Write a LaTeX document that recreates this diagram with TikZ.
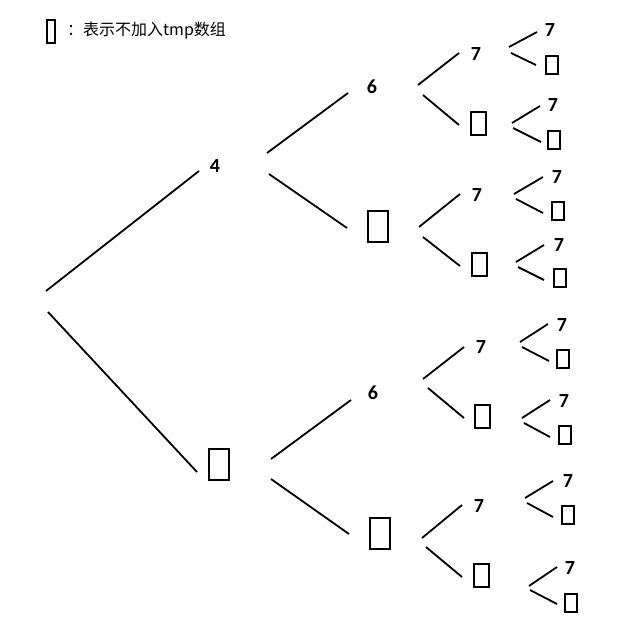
\documentclass[tikz,border=0pt]{standalone}
\usepackage{fontspec}
\newfontfamily\cjk{Noto Sans CJK SC}
\newfontfamily\numfont{Carlito}
\tikzset{
  num/.style={font=\numfont\bfseries\fontsize{20}{20}\selectfont, inner sep=0pt},
  skipbox/.style={draw, line width=2pt, inner sep=0pt},
  big/.style={skipbox, minimum width=20pt, minimum height=31pt},
  mid/.style={skipbox, minimum width=15pt, minimum height=23pt},
  small/.style={skipbox, minimum width=12pt, minimum height=18pt},
  branch/.style={line width=1.8pt}
}

\begin{document}
\begin{tikzpicture}[x=1pt, y=-1pt]
\useasboundingbox (0,0) rectangle (617,632);
% Legend
    \node[skipbox, minimum width=8pt, minimum height=23pt] (lgbox) at (51,31) {};
    \node[anchor=west, inner sep=0pt, font=\cjk\fontsize{16}{16}\selectfont] (lgtxt) at (67,31) {：表示不加入tmp数组};
% Root and first level
    \coordinate (r) at (47,301);
    \node[num] (n4) at (215,166) {4};
    \node[big] (b1) at (218.5,464) {};
% Second level
    \node[num] (n6a) at (372,87) {6};
    \node[big] (b2a) at (378,226) {};
    \node[num] (n6b) at (373,393) {6};
    \node[big] (b2b) at (380,533) {};
% Third level
    \node[num] (s1) at (476,54) {7};
    \node[mid] (s2) at (478,123) {};
    \node[num] (s3) at (477,195) {7};
    \node[mid] (s4) at (479,264) {};
    \node[num] (s5) at (481,347) {7};
    \node[mid] (s6) at (482,416) {};
    \node[num] (s7) at (479,506) {7};
    \node[mid] (s8) at (481,575) {};
% Leaves
    \node[num] (t1a) at (550,30) {7};
    \node[small] (t1b) at (552,65) {};
    \node[num] (t2a) at (553,105) {7};
    \node[small] (t2b) at (554,140) {};
    \node[num] (t3a) at (557,177) {7};
    \node[small] (t3b) at (558,211) {};
    \node[num] (t4a) at (559,245) {7};
    \node[small] (t4b) at (560,278) {};
    \node[num] (t5a) at (562,325) {7};
    \node[small] (t5b) at (563,359) {};
    \node[num] (t6a) at (564,401) {7};
    \node[small] (t6b) at (565,435) {};
    \node[num] (t7a) at (568,481) {7};
    \node[small] (t7b) at (568,515) {};
    \node[num] (t8a) at (570,568) {7};
    \node[small] (t8b) at (571,603) {};
% Branches
    \foreach \a/\b/\sx/\sy/\ex/\ey in {
        r/n4/-1/-10/-16/5, r/b1/1/11/-21.5/8,
        n4/n6a/52/-13/-24/6, n4/b2a/54/8/-31/2,
        b1/n6b/52.5/-5/-22/7, b1/b2b/52.5/15/-31/1,
        n6a/s1/46/-2/-17/-1, n6a/s2/51/8/-19/2,
        b2a/s3/41/1/-17/-1, b2a/s4/45/11/-19/2,
        n6b/s5/50/-14/-17/0, n6b/s6/55/-5/-18/2,
        b2b/s7/42/5/-17/-1, b2b/s8/46/14/-19/2,
        s1/t1a/33/-7/-13/2, s1/t1b/35/-1/-16/0,
        s2/t2a/34/0/-13/1, s2/t2b/35/5/-13/2,
        s3/t3a/37/-1/-14/0, s3/t3b/39/4/-15/2,
        s4/t4a/37/-2/-15/0, s4/t4b/39/3/-16/2,
        s5/t5a/39/-5/-14/-1, s5/t5b/41/0/-14/2,
        s6/t6a/40/2/-14/-1, s6/t6b/42/7/-15/2,
        s7/t7a/46/-8/-15/0, s7/t7b/48/-3/-15/2,
        s8/t8a/48/11/-13/-1, s8/t8b/49/15/-14/1}
        \draw[branch] ([shift={(\sx,\sy)}]\a.center) -- ([shift={(\ex,\ey)}]\b.center);
\end{tikzpicture}
\end{document}
